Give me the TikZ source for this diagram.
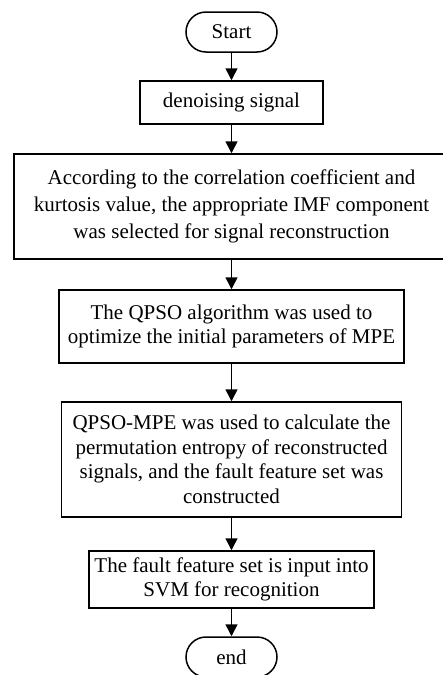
\documentclass[tikz,border=0pt]{standalone}
\usepackage{fontspec}
\setmainfont{Liberation Serif}
\usetikzlibrary{arrows.meta}
\begin{document}
\begin{tikzpicture}[x=1pt,y=-1pt,font=\fontsize{21}{24.5}\selectfont,
terminal/.style={draw=black,line width=1.5pt,rounded corners=20pt,minimum width=91pt,minimum height=40pt,inner sep=0pt},
stepbox/.style={draw=black,line width=1.5pt,align=center,inner sep=0pt},
flow/.style={draw=black,line width=1.5pt,-{Triangle[length=12pt,width=12pt]}}]
\path[use as bounding box] (0,0) rectangle (443,675);
\clip (0,0) rectangle (443,675);
% start
\node[terminal] (start) at (231.5,32) {Start};
% steps
\node[stepbox,minimum width=183pt,minimum height=43pt] (denoise) at (231.5,102.5) {denoising signal};
\node[stepbox,minimum width=435pt,minimum height=105pt,font=\fontsize{21}{27}\selectfont] (select) at (231.5,206.5) {According to the correlation coefficient and\\kurtosis value, the appropriate IMF component\\was selected for signal reconstruction};
\node[stepbox,minimum width=345pt,minimum height=73pt] (qpso) at (231.5,326.5) {The QPSO algorithm was used to\\optimize the initial parameters of MPE};
\node[stepbox,minimum width=340pt,minimum height=115pt] (mpe) at (231.5,459.5) {QPSO-MPE was used to calculate the\\permutation entropy of reconstructed\\signals, and the fault feature set was\\constructed};
\node[stepbox,minimum width=285pt,minimum height=57pt] (svm) at (231.5,579.5) {The fault feature set is input into\\SVM for recognition};
% end
\node[terminal] (stop) at (231.5,657) {end};
% connectors
\draw[flow] (start) -- (denoise);
\draw[flow] (denoise) -- (select);
\draw[flow] (select) -- (qpso);
\draw[flow] (qpso) -- (mpe);
\draw[flow] (mpe) -- (svm);
\draw[flow] (svm) -- (stop);
\end{tikzpicture}
\end{document}
